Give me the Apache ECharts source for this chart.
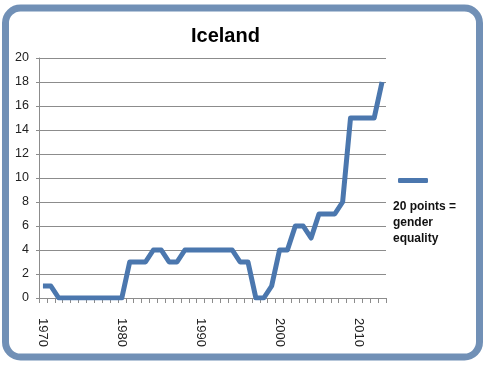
<!DOCTYPE html>
<html>
<head>
<meta charset="utf-8">
<script src="https://cdn.jsdelivr.net/npm/echarts@6/dist/echarts.min.js"></script>
<style>html,body{margin:0;padding:0;background:#fff;}#c{width:486px;height:369px;}</style>
</head>
<body>
<div id="c"></div>
<script>
var years = [];
for (var y = 1970; y <= 2013; y++) years.push(String(y));
var scores = [1,1,0,0,0,0,0,0,0,0,0,3,3,3,4,4,3,3,4,4,4,4,4,4,4,3,3,0,0,1,4,4,6,6,5,7,7,7,8,15,15,15,15,18];
var seriesName = '20 points = gender equality';
var legendText = '20 points =\ngender\nequality';
var titleText = 'Iceland';

var chart = echarts.init(document.getElementById('c'), null, {renderer: 'canvas'});
chart.setOption({
  animation: false,
  backgroundColor: '#ffffff',
  title: {
    text: titleText, left: 186, top: 21,
    textStyle: {fontFamily: 'Liberation Sans, Arial', fontWeight: 'bold', fontSize: 20, color: '#000'}
  },
  legend: {
    left: 393, top: 173, itemWidth: 30, itemHeight: 5, itemGap: 0,
    icon: 'roundRect',
    formatter: function(){ return ''; },
    data: [{name: seriesName, itemStyle: {color: '#4b77ae'}}]
  },
  grid: {left: 39, right: 100, top: 58, bottom: 71},
  xAxis: {
    type: 'category', data: years, boundaryGap: true,
    axisLine: {lineStyle: {color: '#8c8c8c', width: 1}},
    axisTick: {show: true, interval: 0, length: 5, lineStyle: {color: '#8c8c8c'}},
    axisLabel: {interval: 9, rotate: -90, margin: 20, fontFamily: 'Liberation Sans, Arial', fontSize: 13, color: '#222'},
    splitLine: {show: false}
  },
  yAxis: {
    type: 'value', min: 0, max: 20, interval: 2,
    axisLine: {show: true, lineStyle: {color: '#8c8c8c'}},
    axisTick: {show: true, length: 3, lineStyle: {color: '#8c8c8c'}},
    axisLabel: {margin: 10, fontFamily: 'Liberation Sans, Arial', fontSize: 12.5, color: '#222'},
    splitLine: {lineStyle: {color: '#8c8c8c', width: 1}}
  },
  series: [{
    name: seriesName, type: 'line', data: scores, showSymbol: false, symbol: 'none',
    lineStyle: {color: '#4b77ae', width: 5, join: 'round'},
    itemStyle: {color: '#4b77ae'}
  }],
  graphic: [
    {type: 'rect', shape: {x: 5.5, y: 8, width: 474, height: 349, r: 15},
     style: {fill: 'none', stroke: '#7190b6', lineWidth: 7}, z: 100},
    {type: 'text', left: 393, top: 199,
     style: {text: legendText, font: 'bold 12px "Liberation Sans", Arial', fill: '#111', lineHeight: 16}}
  ]
});
</script>
</body>
</html>
